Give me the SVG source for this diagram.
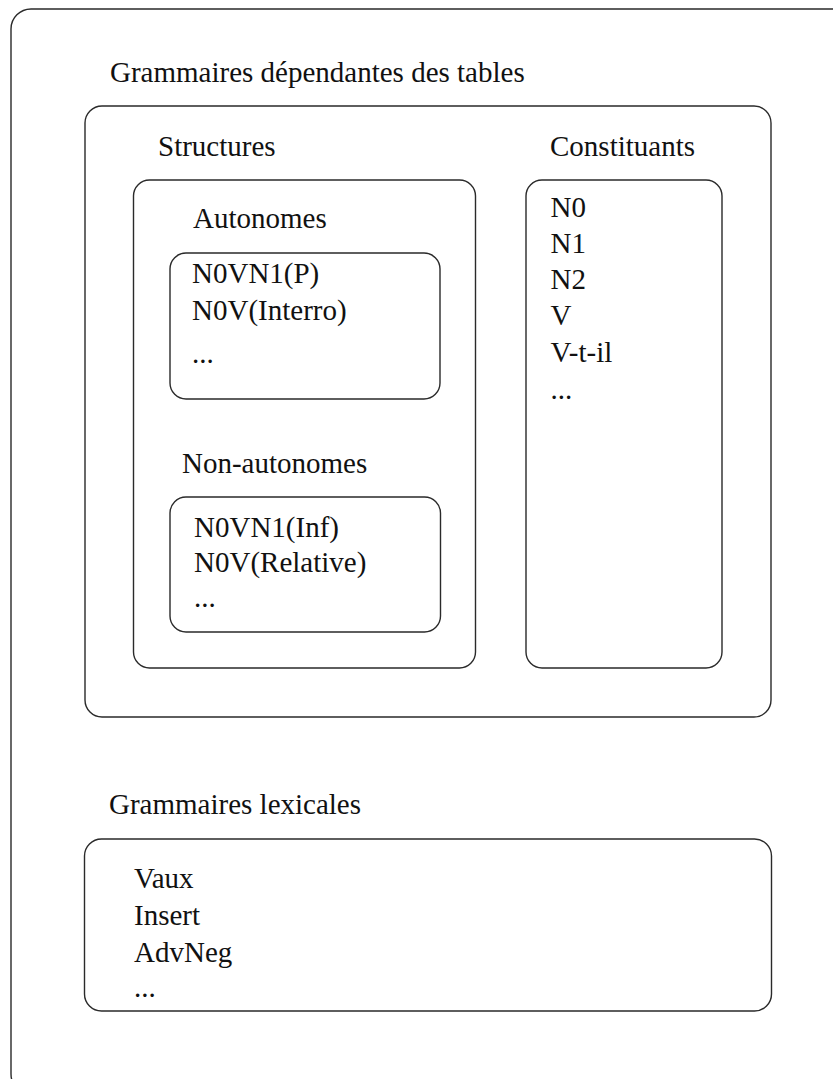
<svg xmlns="http://www.w3.org/2000/svg" width="833" height="1079" viewBox="0 0 833 1079">
<style>
.box{fill:none;stroke:#2a2a2a;stroke-width:1.4}
</style>
<rect x="0" y="0" width="833" height="1079" fill="#fff"/>
<g id="outer">
<rect class="box" x="11" y="9" width="842" height="1085" rx="20"/>
</g>
<g id="grammaires-dependantes">
<text font-family="Times New Roman, serif" font-size="29" fill="#111" x="110" y="82">Grammaires dépendantes des tables</text>
<rect class="box" x="85" y="106" width="686" height="611" rx="17"/>
</g>
<g id="structures">
<text font-family="Times New Roman, serif" font-size="29" fill="#111" x="158" y="156">Structures</text>
<rect class="box" x="133.5" y="180" width="342" height="488" rx="16"/>
</g>
<g id="autonomes">
<text font-family="Times New Roman, serif" font-size="29" fill="#111" x="193" y="228">Autonomes</text>
<rect class="box" x="170" y="253" width="270" height="146" rx="16"/>
<text font-family="Times New Roman, serif" font-size="29" fill="#111" x="192" y="283">N0VN1(P)</text>
<text font-family="Times New Roman, serif" font-size="29" fill="#111" x="192" y="320">N0V(Interro)</text>
<text font-family="Times New Roman, serif" font-size="29" fill="#111" x="192" y="363">...</text>
</g>
<g id="non-autonomes">
<text font-family="Times New Roman, serif" font-size="29" fill="#111" x="182" y="473">Non-autonomes</text>
<rect class="box" x="170" y="497" width="270.5" height="135" rx="16"/>
<text font-family="Times New Roman, serif" font-size="29" fill="#111" x="194" y="537">N0VN1(Inf)</text>
<text font-family="Times New Roman, serif" font-size="29" fill="#111" x="194" y="572">N0V(Relative)</text>
<text font-family="Times New Roman, serif" font-size="29" fill="#111" x="194" y="607">...</text>
</g>
<g id="constituants">
<text font-family="Times New Roman, serif" font-size="29" fill="#111" x="550" y="156">Constituants</text>
<rect class="box" x="526" y="180" width="196" height="488" rx="16"/>
<text font-family="Times New Roman, serif" font-size="29" fill="#111" x="550.5" y="217">N0</text>
<text font-family="Times New Roman, serif" font-size="29" fill="#111" x="550.5" y="253">N1</text>
<text font-family="Times New Roman, serif" font-size="29" fill="#111" x="550.5" y="289">N2</text>
<text font-family="Times New Roman, serif" font-size="29" fill="#111" x="550.5" y="325">V</text>
<text font-family="Times New Roman, serif" font-size="29" fill="#111" x="550.5" y="362">V-t-il</text>
<text font-family="Times New Roman, serif" font-size="29" fill="#111" x="550.5" y="399">...</text>
</g>
<g id="grammaires-lexicales">
<text font-family="Times New Roman, serif" font-size="29" fill="#111" x="109" y="814">Grammaires lexicales</text>
<rect class="box" x="84.5" y="839" width="687" height="172" rx="17"/>
<text font-family="Times New Roman, serif" font-size="29" fill="#111" x="134" y="888">Vaux</text>
<text font-family="Times New Roman, serif" font-size="29" fill="#111" x="134" y="925">Insert</text>
<text font-family="Times New Roman, serif" font-size="29" fill="#111" x="134" y="962">AdvNeg</text>
<text font-family="Times New Roman, serif" font-size="29" fill="#111" x="134" y="997">...</text>
</g>
<g id="connectors"></g>
</svg>
